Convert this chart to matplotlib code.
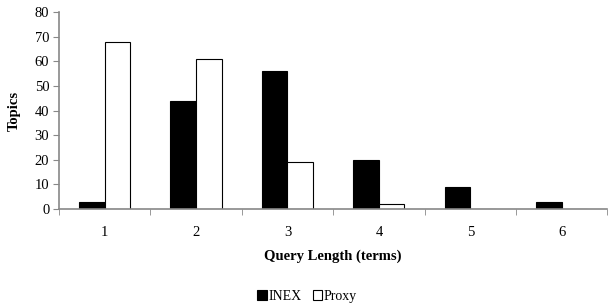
import numpy as np
import matplotlib.pyplot as plt

lengths = [1, 2, 3, 4, 5, 6]
inex = [3, 44, 56, 20, 9, 3]
proxy = [68, 61, 19, 2, 0, 0]

plt.rcParams['font.family'] = 'Liberation Serif'
plt.rcParams['font.size'] = 10.5

fig = plt.figure(figsize=(6.08, 3.03), dpi=100)
ax = fig.add_axes([0.097, 0.31, 0.902, 0.65])

x = np.array(lengths)
w = 0.28
ax.bar(x - w / 2, inex, w, color='black', edgecolor='black', linewidth=0.8, label='INEX')
ax.bar(x + w / 2, proxy, w, color='white', edgecolor='black', linewidth=0.8, label='Proxy')

ax.set_xlim(0.5, 6.5)
ax.set_ylim(0, 80)
ax.set_yticks(np.arange(0, 81, 10))
ax.set_xticks(x)
ax.set_xticks(np.arange(0.5, 6.6, 1), minor=True)
ax.tick_params(axis='x', which='major', length=0, pad=12)
ax.tick_params(axis='x', which='minor', length=4, color='#888888')
ax.tick_params(axis='y', length=4, color='#888888', pad=3)

for s in ['top', 'right']:
    ax.spines[s].set_visible(False)
for s in ['left', 'bottom']:
    ax.spines[s].set_color('#888888')
    ax.spines[s].set_linewidth(1.2)

ax.set_xlabel('Query Length (terms)', fontweight='bold', fontsize=10.5, labelpad=8)
ax.set_ylabel('Topics', fontweight='bold', fontsize=10.5, labelpad=10)

fig.legend(loc='lower center', bbox_to_anchor=(0.505, -0.04), ncol=2, frameon=False,
           fontsize=10, handlelength=0.7, handleheight=0.7, handletextpad=0.1,
           columnspacing=0.8)

fig.savefig('out.png', dpi=100)
